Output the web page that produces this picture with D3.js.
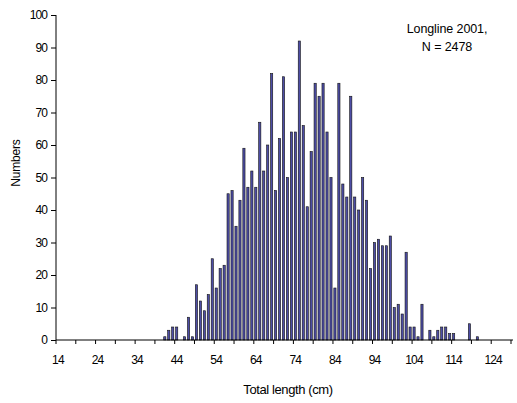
<!DOCTYPE html>
<html>
<head>
<meta charset="utf-8">
<script src="https://cdn.jsdelivr.net/npm/d3@7"></script>
<style>
  html, body { margin: 0; padding: 0; background: #fff; }
  svg { display: block; }
  text { font-family: "Liberation Sans", Arial, sans-serif; fill: #000; }
</style>
</head>
<body>
<svg id="chart" width="517" height="403"></svg>
<script>
// Length classes (cm) 14..128 and counts
const lengths = d3.range(14, 129);
const countedLengths = [41,42,43,44,45,46,47,48,49,50,51,52,53,54,55,56,57,58,59,60,
  61,62,63,64,65,66,67,68,69,70,71,72,73,74,75,76,77,78,79,80,
  81,82,83,84,85,86,87,88,89,90,91,92,93,94,95,96,97,98,99,100,
  101,102,103,104,105,106,107,108,109,110,111,112,113,114,115,116,117,118,119,120];
const counts = [1,3,4,4,0,1,7,1,17,12,9,14,25,16,22,23,45,46,35,43,
  59,47,52,47,67,52,60,82,46,62,81,50,64,64,92,66,41,58,79,75,
  79,64,50,16,79,48,44,75,44,40,50,43,22,30,31,29,29,32,10,11,
  8,27,4,4,1,11,0,3,1,3,4,4,2,2,0,0,0,5,0,1];
const xTickLabels = [14,24,34,44,54,64,74,84,94,104,114,124];
const yTicks = [0,10,20,30,40,50,60,70,80,90,100];
const annotation = ["Longline 2001,", "N = 2478"];
const xTitle = "Total length (cm)";
const yTitle = "Numbers";

const svg = d3.select("#chart");
const mLeft = 56, mRight = 511, mTop = 15, mBottom = 340;

const x = d3.scaleBand().domain(lengths).range([mLeft, mRight]).padding(0);
const y = d3.scaleLinear().domain([0, 100]).range([mBottom, mTop]);

const data = countedLengths.map((l, i) => ({ l, v: counts[i] })).filter(d => d.v > 0);

const barW = 2.2;
svg.append("g").selectAll("rect").data(data).join("rect")
  .attr("x", d => x(d.l) + x.bandwidth() / 2 - barW / 2)
  .attr("y", d => y(d.v))
  .attr("width", barW)
  .attr("height", d => y(0) - y(d.v))
  .attr("fill", "#4d4da6")
  .attr("stroke", "#111")
  .attr("stroke-width", 0.6);

// Y axis
const yAxis = d3.axisLeft(y).tickValues(yTicks).tickSize(5).tickPadding(4).tickFormat(d3.format("d"));
const gy = svg.append("g").attr("transform", `translate(${mLeft},0)`).call(yAxis);
gy.select(".domain").attr("stroke", "#000").attr("d", `M0,${mTop}V${mBottom}`);
gy.selectAll(".tick line").attr("stroke", "#000");
gy.selectAll(".tick text").style("font-size", "12px").style("letter-spacing", "-0.9px");

// X axis: line, tick marks every 5 classes at boundaries, labels every 10 classes
const gx = svg.append("g");
gx.append("line").attr("x1", mLeft).attr("x2", mRight + 2).attr("y1", mBottom).attr("y2", mBottom)
  .attr("stroke", "#000");
const tickBounds = lengths.filter(l => (l - 14) % 5 === 0).concat([129]);
gx.selectAll("line.t").data(tickBounds).join("line").attr("class", "t")
  .attr("x1", d => d === 129 ? mRight : x(d)).attr("x2", d => d === 129 ? mRight : x(d))
  .attr("y1", mBottom).attr("y2", mBottom + 4)
  .attr("stroke", "#000");
gx.selectAll("text").data(xTickLabels).join("text")
  .attr("x", d => x(d) + x.bandwidth() / 2)
  .attr("y", mBottom + 24)
  .attr("text-anchor", "middle")
  .style("font-size", "12px").style("letter-spacing", "-0.8px")
  .text(d => d);

// Titles
svg.append("text").attr("x", 288).attr("y", 394).attr("text-anchor", "middle")
  .style("font-size", "13px").style("letter-spacing", "-0.4px").text(xTitle);
svg.append("text").attr("transform", "translate(20,163) rotate(-90)").attr("text-anchor", "middle")
  .style("font-size", "12px").style("letter-spacing", "-0.2px").text(yTitle);

// Annotation
svg.append("g").selectAll("text").data(annotation).join("text")
  .attr("x", 447).attr("y", (d, i) => 33 + i * 18).attr("text-anchor", "middle")
  .style("font-size", "12.5px").style("letter-spacing", "-0.1px").text(d => d);
</script>
</body>
</html>
